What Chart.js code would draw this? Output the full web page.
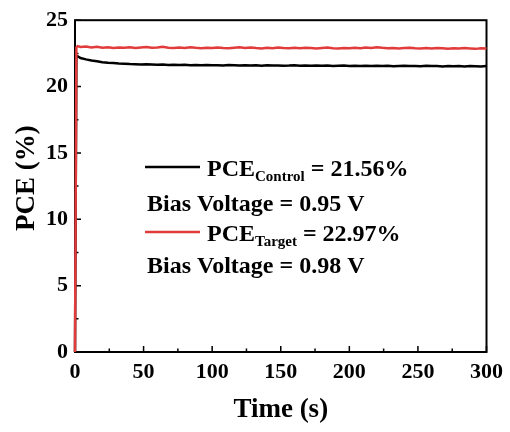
<!DOCTYPE html>
<html>
<head>
<meta charset="utf-8">
<script src="https://cdn.jsdelivr.net/npm/chart.js@4"></script>
<style>
  html, body { margin: 0; padding: 0; background: #fff; }
  #wrap { width: 510px; height: 432px; position: relative; }
</style>
</head>
<body>
<div id="wrap"><canvas id="c"></canvas></div>
<script>
// time axis (s)
const timeS = [0, 1, 2, 4, 8, 12, 16, 20, 24, 28, 32, 36, 40, 44, 48, 52, 56, 60, 64, 68,
  72, 76, 80, 84, 88, 92, 96, 100, 104, 108, 112, 116, 120, 124, 128, 132, 136, 140, 144, 148,
  152, 156, 160, 164, 168, 172, 176, 180, 184, 188, 192, 196, 200, 204, 208, 212, 216, 220, 224, 228,
  232, 236, 240, 244, 248, 252, 256, 260, 264, 268, 272, 276, 280, 284, 288, 292, 296, 300];

// PCE (%) control device
const pceControl = [0, 22.32, 22.28, 22.15, 22.05, 21.96, 21.90, 21.84, 21.80, 21.77,
  21.74, 21.72, 21.70, 21.69, 21.67, 21.68, 21.66, 21.64, 21.66, 21.63,
  21.65, 21.62, 21.64, 21.61, 21.63, 21.60, 21.62, 21.60, 21.61, 21.59,
  21.62, 21.60, 21.58, 21.61, 21.59, 21.60, 21.57, 21.60, 21.58, 21.59,
  21.57, 21.58, 21.60, 21.56, 21.58, 21.57, 21.59, 21.56, 21.58, 21.55,
  21.57, 21.58, 21.55, 21.57, 21.54, 21.56, 21.55, 21.57, 21.54, 21.56,
  21.53, 21.55, 21.57, 21.54, 21.55, 21.53, 21.56, 21.54, 21.55, 21.52,
  21.54, 21.53, 21.55, 21.52, 21.54, 21.53, 21.51, 21.55];

// PCE (%) target device
const pceTarget = [0, 22.95, 23.05, 22.98, 23.02, 22.94, 22.99, 22.93, 22.97, 22.91,
  22.95, 22.92, 22.96, 22.90, 22.94, 22.98, 22.92, 22.95, 22.99, 22.93,
  22.90, 22.94, 22.91, 22.96, 22.92, 22.89, 22.93, 22.90, 22.95, 22.91,
  22.88, 22.93, 22.96, 22.91, 22.94, 22.90, 22.87, 22.92, 22.89, 22.94,
  22.90, 22.88, 22.92, 22.89, 22.93, 22.90, 22.87, 22.91, 22.94, 22.89,
  22.86, 22.91, 22.88, 22.92, 22.89, 22.95, 22.91, 22.97, 22.92, 22.88,
  22.91, 22.87, 22.90, 22.93, 22.88, 22.86, 22.90, 22.87, 22.91, 22.88,
  22.85, 22.89, 22.86, 22.90, 22.87, 22.84, 22.89, 22.86];

const xTicks = [0, 50, 100, 150, 200, 250, 300];
const yTicks = [0, 5, 10, 15, 20, 25];

const SERIF = "'Liberation Serif', 'Times New Roman', serif";
const RED = '#e23b3b';

const toXY = ys => timeS.map((t, i) => ({ x: t, y: ys[i] }));

// frame with inward ticks, axis titles
const framePlugin = {
  id: 'frame',
  beforeDatasetsDraw(chart) {
    const { ctx, chartArea: a, scales: { x, y } } = chart;
    ctx.save();
    ctx.strokeStyle = '#000';
    ctx.lineWidth = 2;
    ctx.strokeRect(a.left, a.top, a.right - a.left, a.bottom - a.top);
    ctx.lineWidth = 1.5;
    ctx.beginPath();
    for (let v = 0; v <= 300; v += 25) {
      const px = x.getPixelForValue(v);
      const len = v % 50 === 0 ? 6 : 3.5;
      ctx.moveTo(px, a.bottom); ctx.lineTo(px, a.bottom - len);
    }
    for (let v = 0; v <= 25; v += 2.5) {
      const py = y.getPixelForValue(v);
      const len = v % 5 === 0 ? 6 : 3.5;
      ctx.moveTo(a.left, py); ctx.lineTo(a.left + len, py);
    }
    ctx.stroke();

    ctx.fillStyle = '#000';
    ctx.font = 'bold 27px ' + SERIF;
    ctx.textAlign = 'center';
    ctx.textBaseline = 'middle';
    ctx.fillText('Time (s)', (a.left + a.right) / 2, 410);
    ctx.translate(27, (a.top + a.bottom) / 2 - 8);
    ctx.rotate(-Math.PI / 2);
    ctx.fillText('PCE (%)', 0, 0);
    ctx.restore();
  },
  afterDraw(chart) {
    const { ctx } = chart;
    ctx.save();
    ctx.fillStyle = '#000';
    ctx.textBaseline = 'alphabetic';
    ctx.textAlign = 'left';
    const big = 'bold 24px ' + SERIF;
    const small = 'bold 15px ' + SERIF;
    const entry = (color, lineY, base, sub, val) => {
      ctx.strokeStyle = color;
      ctx.lineWidth = 2.5;
      ctx.beginPath(); ctx.moveTo(145, lineY); ctx.lineTo(200, lineY); ctx.stroke();
      let xx = 207;
      ctx.font = big; ctx.fillText('PCE', xx, base); xx += ctx.measureText('PCE').width;
      ctx.font = small; ctx.fillText(sub, xx, base + 5); xx += ctx.measureText(sub).width;
      ctx.font = big; ctx.fillText(' = ' + val, xx, base);
    };
    entry('#000', 167, 176, 'Control', '21.56%');
    ctx.font = big; ctx.fillText('Bias Voltage = 0.95 V', 147, 211);
    entry(RED, 232, 241, 'Target', '22.97%');
    ctx.font = big; ctx.fillText('Bias Voltage = 0.98 V', 147, 273);
    ctx.restore();
  }
};

new Chart(document.getElementById('c'), {
  type: 'line',
  data: {
    datasets: [
      { label: 'Target', data: toXY(pceTarget), borderColor: RED, borderWidth: 2.5, order: 0 },
      { label: 'Control', data: toXY(pceControl), borderColor: '#000', borderWidth: 2.5, order: 1 }
    ]
  },
  options: {
    responsive: true,
    maintainAspectRatio: false,
    animation: false,
    clip: 4,
    elements: { point: { radius: 0 }, line: { tension: 0 } },
    layout: { padding: { top: 18, right: 22, left: 0, bottom: 0 } },
    plugins: { legend: { display: false }, tooltip: { enabled: false } },
    scales: {
      x: {
        type: 'linear', min: 0, max: 300,
        afterFit: s => { s.height = 80; },
        afterBuildTicks: s => { s.ticks = xTicks.map(v => ({ value: v })); },
        grid: { display: false, drawTicks: false },
        border: { display: false },
        ticks: { color: '#000', padding: 7, maxRotation: 0, font: { family: SERIF, size: 22, weight: 'bold' } }
      },
      y: {
        min: 0, max: 25,
        afterFit: s => { s.width = 75; },
        afterBuildTicks: s => { s.ticks = yTicks.map(v => ({ value: v })); },
        grid: { display: false, drawTicks: false },
        border: { display: false },
        ticks: { color: '#000', padding: 7, font: { family: SERIF, size: 22, weight: 'bold' } }
      }
    }
  },
  plugins: [framePlugin]
});
</script>
</body>
</html>
